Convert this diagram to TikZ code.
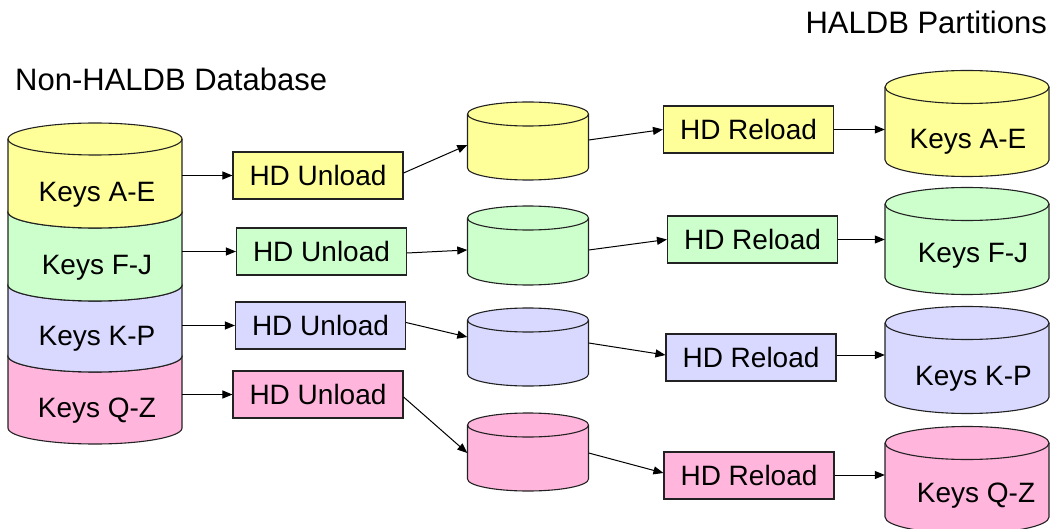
\documentclass[tikz,border=0pt]{standalone}
\usepackage{fontspec}
\setmainfont{Liberation Sans}
\usetikzlibrary{arrows.meta}
\definecolor{cyel}{HTML}{FFFF99}
\definecolor{cgrn}{HTML}{CCFFCC}
\definecolor{cblu}{HTML}{D9D9FF}
\definecolor{cpnk}{HTML}{FFB5DC}
\definecolor{edge}{HTML}{222222}
\tikzset{
  cylline/.style={draw=edge, line width=1.1pt},
  procbox/.style={draw=edge, line width=1.1pt, minimum width=170pt, minimum height=47pt, inner sep=0pt,
    font=\fontsize{28}{34}\selectfont, text height=20pt, text depth=0pt},
  keylabel/.style={inner sep=0pt, font=\fontsize{28}{34}\selectfont, text height=20pt, text depth=0pt},
  body/.style={inner sep=0pt, draw=none},
  title/.style={inner sep=0pt, font=\fontsize{31}{37}\selectfont, text height=22.2pt, text depth=0pt},
  flow/.style={draw=black, line width=1pt, -{Triangle[length=10pt,width=8pt]}},
}
\newcommand\dbcyl[6]{%
  \filldraw[cylline, fill=#6] ({#1-#4},{-#2}) -- ({#1-#4},{-#3})
    arc[start angle=180, end angle=360, x radius=#4, y radius=#5]
    -- ({#1+#4},{-#2})
    arc[start angle=0, end angle=180, x radius=#4, y radius=#5] -- cycle;
  \draw[cylline] ({#1-#4},{-#2}) arc[start angle=180, end angle=360, x radius=#4, y radius=#5];}
\begin{document}
\begin{tikzpicture}[x=1pt, y=1pt]
\useasboundingbox (0,0) rectangle (1051,-529);

% titles
\node[title, anchor=west] (t1) at (15,-79) {Non-HALDB Database};
\node[title, anchor=east] (t2) at (1047,-22) {HALDB Partitions};

% left stacked database
\dbcyl{95}{356}{428}{87}{16}{cpnk}
\dbcyl{95}{285}{356}{87}{16}{cblu}
\dbcyl{95}{212}{285}{87}{16}{cgrn}
\dbcyl{95}{139}{212}{87}{16}{cyel}
\node[body, minimum width=174pt, minimum height=73pt] (k1) at (95,-175.5) {};
\node[body, minimum width=174pt, minimum height=73pt] (k2) at (95,-248.5) {};
\node[body, minimum width=174pt, minimum height=71pt] (k3) at (95,-320.5) {};
\node[body, minimum width=174pt, minimum height=72pt] (k4) at (95,-392) {};
\node[keylabel] (kl1) at (97,-192) {Keys A-E};
\node[keylabel] (kl2) at (97,-264) {Keys F-J};
\node[keylabel] (kl3) at (97,-335) {Keys K-P};
\node[keylabel] (kl4) at (97,-407) {Keys Q-Z};

% unload boxes
\node[procbox, fill=cyel] (u1) at (318,-175.5) {HD Unload};
\node[procbox, fill=cgrn] (u2) at (321.5,-251.5) {HD Unload};
\node[procbox, fill=cblu] (u3) at (320.5,-325.5) {HD Unload};
\node[procbox, fill=cpnk] (u4) at (318,-394.5) {HD Unload};

% middle (unloaded) datasets
\dbcyl{528}{114}{168}{60.5}{12}{cyel}
\dbcyl{528}{218}{273}{60.5}{12}{cgrn}
\dbcyl{528}{320}{374}{60.5}{12}{cblu}
\dbcyl{528}{425}{479}{60.5}{12}{cpnk}
\node[body, minimum width=121pt, minimum height=54pt] (m1) at (528,-141) {};
\node[body, minimum width=121pt, minimum height=55pt] (m2) at (528,-245.5) {};
\node[body, minimum width=121pt, minimum height=54pt] (m3) at (528,-347) {};
\node[body, minimum width=121pt, minimum height=54pt] (m4) at (528,-452) {};

% reload boxes
\node[procbox, fill=cyel] (r1) at (748.5,-129.5) {HD Reload};
\node[procbox, fill=cgrn] (r2) at (752.5,-239.5) {HD Reload};
\node[procbox, fill=cblu] (r3) at (751,-357.5) {HD Reload};
\node[procbox, fill=cpnk] (r4) at (749,-475.5) {HD Reload};

% HALDB partitions
\dbcyl{967}{87}{160}{82}{16.5}{cyel}
\dbcyl{967}{204}{278}{82}{16.5}{cgrn}
\dbcyl{967}{323}{397}{82}{16.5}{cblu}
\dbcyl{967}{443}{517}{82}{16.5}{cpnk}
\node[body, minimum width=164pt, minimum height=73pt] (p1) at (967,-123.5) {};
\node[body, minimum width=164pt, minimum height=74pt] (p2) at (967,-241) {};
\node[body, minimum width=164pt, minimum height=74pt] (p3) at (967,-360) {};
\node[body, minimum width=164pt, minimum height=74pt] (p4) at (967,-480) {};
\node[keylabel] (pl1) at (968,-139) {Keys A-E};
\node[keylabel] (pl2) at (973,-252) {Keys F-J};
\node[keylabel] (pl3) at (973.5,-375) {Keys K-P};
\node[keylabel] (pl4) at (976,-492) {Keys Q-Z};

% connectors: stack -> unload
\draw[flow] (u1.west -| k1.east) -- (u1.west);
\draw[flow] (u2.west -| k2.east) -- (u2.west);
\draw[flow] (u3.west -| k3.east) -- (u3.west);
\draw[flow] (u4.west -| k4.east) -- (u4.west);

% unload -> middle datasets
\draw[flow] ([yshift=2.5pt]u1.east) -- ([yshift=-4pt]m1.west);
\draw[flow] ([yshift=-1.5pt]u2.east) -- ([yshift=-4.5pt]m2.west);
\draw[flow] ([yshift=3pt]u3.east) -- ([yshift=10pt]m3.west);
\draw[flow] ([yshift=-2.5pt]u4.east) -- ([yshift=-1pt]m4.west);

% middle datasets -> reload
\draw[flow] ([yshift=1pt]m1.east) -- (r1.west);
\draw[flow] ([yshift=-4.5pt]m2.east) -- (r2.west);
\draw[flow] ([yshift=4pt]m3.east) -- ([yshift=2.5pt]r3.west);
\draw[flow] ([yshift=-1pt]m4.east) -- ([yshift=2.5pt]r4.west);

% reload -> partitions
\draw[flow] (r1.east) -- (r1.east -| p1.west);
\draw[flow] (r2.east) -- (r2.east -| p2.west);
\draw[flow] ([yshift=2.5pt]r3.east) -- ([yshift=2.5pt]r3.east -| p3.west);
\draw[flow] ([yshift=0.5pt]r4.east) -- ([yshift=0.5pt]r4.east -| p4.west);
\end{tikzpicture}
\end{document}
